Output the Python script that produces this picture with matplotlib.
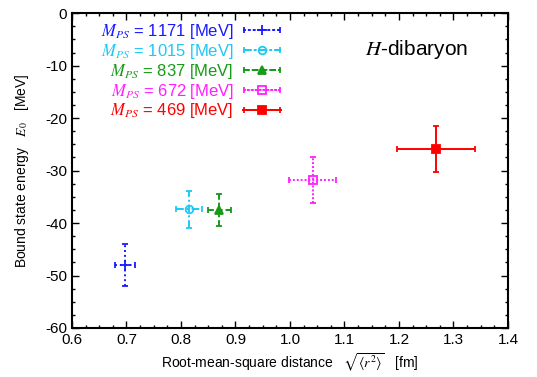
import matplotlib
matplotlib.use("Agg")
import matplotlib.pyplot as plt
from matplotlib.ticker import MultipleLocator
from matplotlib.container import ErrorbarContainer
from matplotlib.legend_handler import HandlerErrorbar

plt.rcParams['font.family'] = ['Liberation Sans', 'DejaVu Sans']
plt.rcParams['mathtext.fontset'] = 'stix'
plt.rcParams['axes.unicode_minus'] = False

# Data
mps = [1171, 1015, 837, 672, 469]
r_rms = [0.697, 0.815, 0.870, 1.042, 1.268]
r_err = [0.018, 0.024, 0.021, 0.043, 0.072]
e0 = [-48.0, -37.4, -37.5, -31.8, -25.9]
e0_err = [4.0, 3.6, 3.0, 4.4, 4.4]

colors = ['#1a1aff', '#1ec8f5', '#179b17', '#ff20ff', '#ff0000']
markers = ['+', 'o', '^', 's', 's']
mfaces = ['#1a1aff', 'none', '#179b17', 'none', '#ff0000']
msizes = [7, 5.5, 5.5, 5.5, 6]
lstyles = [(0, (1, 1.5)), (0, (4, 1.5, 1, 1.5)), (0, (3, 1.5)), (0, (1, 1)), '-']

fig = plt.figure(figsize=(5.37, 3.77), dpi=100)
ax = fig.add_axes([0.134, 0.130, 0.812, 0.835])

handles = []
labels = []
for i in range(len(mps)):
    cont = ax.errorbar(r_rms[i], e0[i], xerr=r_err[i], yerr=e0_err[i],
                       color=colors[i], marker=markers[i], mfc=mfaces[i],
                       mec=colors[i], ms=msizes[i],
                       mew=1.3, ls=lstyles[i], lw=1.4, elinewidth=1.4,
                       capsize=2.5, capthick=1.4)
    for c in cont[2]:
        c.set_linestyle(lstyles[i])
    h = ErrorbarContainer(cont.lines, has_xerr=True, has_yerr=False)
    handles.append(h)
    labels.append(r'$M_{PS}$ = %d [MeV]' % mps[i])

leg = ax.legend(handles, labels, loc='upper right', bbox_to_anchor=(0.48, 0.972),
                markerfirst=False, labelcolor=colors, frameon=False,
                fontsize=12, handlelength=2.3, handletextpad=0.55,
                labelspacing=0.05, borderaxespad=0.0, borderpad=0.0,
                handler_map={ErrorbarContainer: HandlerErrorbar(xerr_size=1.1)})

ax.text(0.79, 0.885, r'$H$-dibaryon', transform=ax.transAxes,
        fontsize=15, ha='center', va='center')

ax.set_xlim(0.6, 1.4)
ax.set_ylim(-60, 0)
ax.xaxis.set_major_locator(MultipleLocator(0.1))
ax.xaxis.set_minor_locator(MultipleLocator(0.025))
ax.yaxis.set_major_locator(MultipleLocator(10))
ax.yaxis.set_minor_locator(MultipleLocator(2.5))
ax.xaxis.set_major_formatter(matplotlib.ticker.FormatStrFormatter('%.1f'))
ax.tick_params(which='both', direction='in', top=True, right=True, labelsize=11)
ax.tick_params(which='major', length=5, width=1)
ax.tick_params(which='minor', length=2.5, width=1)
for s in ax.spines.values():
    s.set_linewidth(1.5)

ax.set_xlabel(r'Root-mean-square distance   $\sqrt{\langle r^2\rangle}$   [fm]', fontsize=10)
ax.set_ylabel(r'Bound state energy   $E_0$   [MeV]', fontsize=10, labelpad=10)

fig.savefig('out.png', dpi=100)
